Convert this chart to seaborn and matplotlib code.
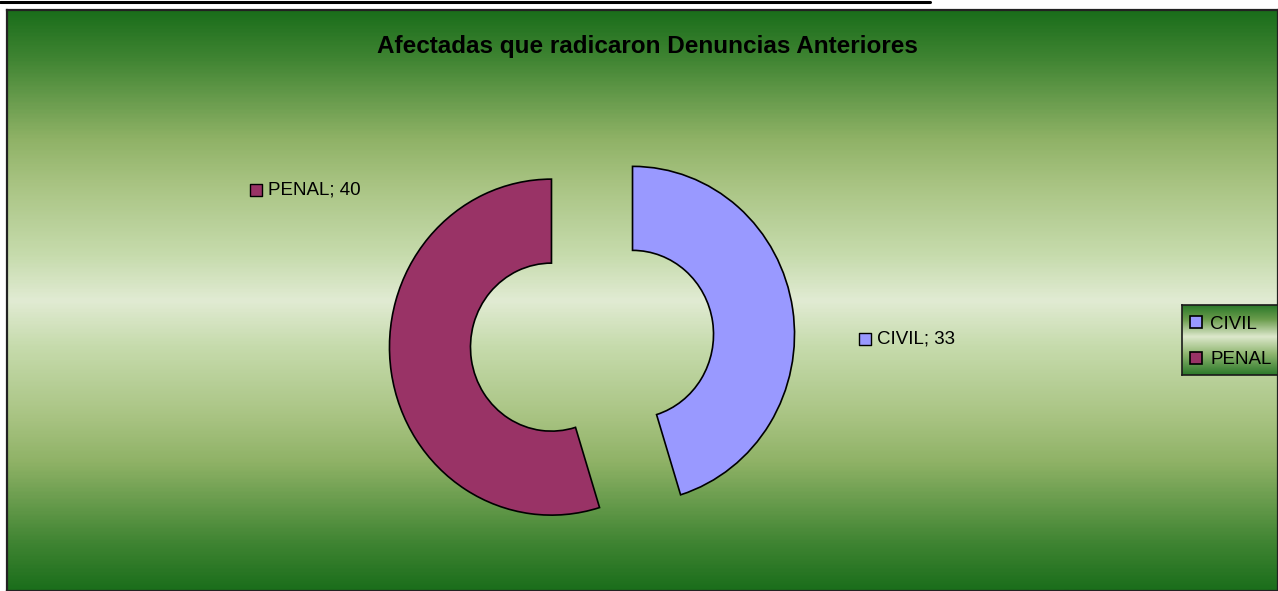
import numpy as np
import matplotlib
matplotlib.use("Agg")
import matplotlib.pyplot as plt
from matplotlib.colors import LinearSegmentedColormap
from matplotlib.lines import Line2D
import seaborn as sns

# datos del grafico
categorias = ["CIVIL", "PENAL"]
valores = [33, 40]
colores = ["#9999FF", "#993366"]
titulo = "Afectadas que radicaron Denuncias Anteriores"

sns.set_theme(style="white")
plt.rcParams["font.family"] = ["Liberation Sans", "DejaVu Sans"]

W, H = 1278, 591
fig = plt.figure(figsize=(W / 100, H / 100), dpi=100)
fig.patch.set_facecolor("white")

# fondo degradado del area del grafico (oscuro arriba/abajo, claro al centro)
fondo = LinearSegmentedColormap.from_list("fondo", [
    (0.00, "#1b6e1b"), (0.08, "#3f8432"), (0.22, "#8fb266"), (0.30, "#a9c483"),
    (0.42, "#c6dbac"), (0.50, "#e1ebd3"), (0.58, "#c6dbac"), (0.70, "#a9c483"),
    (0.78, "#8fb266"), (0.92, "#3f8432"), (1.00, "#1b6e1b")])
ax_bg = fig.add_axes([7 / W, 0, 1 - 7 / W, 581 / H])
ax_bg.imshow(np.linspace(0, 1, 400).reshape(-1, 1), cmap=fondo, aspect="auto",
             extent=(0, 1, 0, 1))
ax_bg.set_xticks([])
ax_bg.set_yticks([])
for sp in ax_bg.spines.values():
    sp.set_color("#222222")
    sp.set_linewidth(1.6)

# donut explotado
ax = fig.add_axes([0, 0, 1, 1])
ax.patch.set_alpha(0)
wedges, _ = ax.pie(valores, colors=colores, startangle=90, counterclock=False,
                   explode=[0.253, 0.253],
                   wedgeprops=dict(width=0.5, edgecolor="black", linewidth=1.2))
ax.set_aspect("auto")
ax.set_xlim(-592 / 162, 686 / 162)
ax.set_ylim(-250.25 / 168, 340.75 / 168)
ax.axis("off")

# etiquetas de datos
pos_etiquetas = [(1.685, 0.01), (-2.074, 0.897)]
for (x, y), cat, val, col in zip(pos_etiquetas, categorias, valores, colores):
    ax.scatter([x], [y], marker="s", s=64, color=col, edgecolor="black",
               linewidth=1.0, zorder=5)
    ax.text(x + 0.075, y, f"{cat}; {val}", fontsize=13.5, va="center", ha="left",
            color="black")

fig.text(647.5 / W, 1 - 47 / H, titulo, fontsize=17.5, fontweight="bold",
         ha="center", va="center", color="black")

# linea superior
fig.add_artist(Line2D([0, 930 / W], [1 - 1.5 / H, 1 - 1.5 / H], color="black",
                      linewidth=2.2, transform=fig.transFigure))

# leyenda con fondo degradado
leg_fondo = LinearSegmentedColormap.from_list("leg", [
    (0.0, "#2c792a"), (0.2, "#6a9c4c"), (0.45, "#dde8cc"),
    (0.7, "#8fb670"), (1.0, "#2c792a")])
ax_leg = fig.add_axes([1182 / W, (H - 375) / H, 96 / W, 70 / H])
ax_leg.imshow(np.linspace(0, 1, 100).reshape(-1, 1), cmap=leg_fondo,
              aspect="auto", extent=(0, 1, 0, 1))
ax_leg.set_xticks([])
ax_leg.set_yticks([])
for sp in ax_leg.spines.values():
    sp.set_color("#1a1a1a")
    sp.set_linewidth(1.2)

fig.legend(wedges, categorias, loc="upper left",
           bbox_to_anchor=(1186 / W, 1 - 312 / H), frameon=False, fontsize=13.5,
           handlelength=0.65, handleheight=0.65, handletextpad=0.45,
           labelspacing=1.0, borderaxespad=0, borderpad=0.2, labelcolor="black")

fig.savefig("out.png", dpi=100)
